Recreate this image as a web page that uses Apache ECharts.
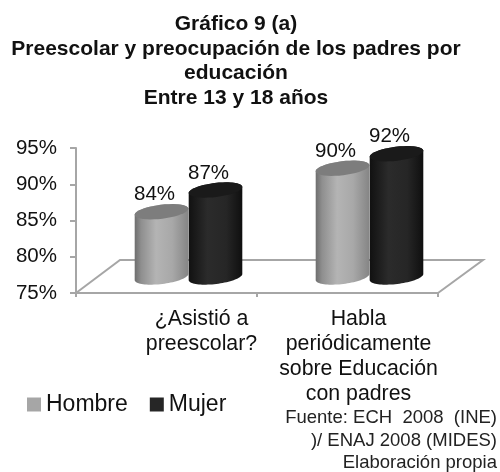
<!DOCTYPE html>
<html><head><meta charset="utf-8">
<style>html,body{margin:0;padding:0;background:#fff}#c{width:500px;height:472px}</style>
<script src="https://cdn.jsdelivr.net/npm/echarts@6/dist/echarts.min.js"></script>
</head><body><div id="c"></div>
<script>
const categories = ['¿Asistió a\npreescolar?', 'Habla\nperiódicamente\nsobre Educación\ncon padres'];
const categoryShift = [70, 22];
const hombre = [84, 90];
const mujer = [87, 92];
const yTicks = {min: 75, max: 95, interval: 5};
const titleText = 'Gráfico 9 (a)\nPreescolar y preocupación de los padres por\neducación\nEntre 13 y 18 años';
const sourceText = 'Fuente: ECH  2008  (INE)\n)/ ENAJ 2008 (MIDES)\nElaboración propia';

const FONT = '"Liberation Sans", Arial, sans-serif';
const GREY = '#a6a6a6';
const chart = echarts.init(document.getElementById('c'), null, {renderer: 'canvas'});

const RX = 27, RY = 7, TILT = -7 * Math.PI / 180, DEPTH = 16, SHIFT = 22;
function ellipsePts(cx, cy, from, to) {
  const pts = [];
  for (let i = 0; i <= 40; i++) {
    const t = from + (to - from) * i / 40;
    pts.push([
      cx + RX * Math.cos(t) * Math.cos(TILT) - RY * Math.sin(t) * Math.sin(TILT),
      cy + RX * Math.cos(t) * Math.sin(TILT) + RY * Math.sin(t) * Math.cos(TILT)
    ]);
  }
  return pts;
}
function grad(stops) {
  return new echarts.graphic.LinearGradient(0, 0, 1, 0, stops.map((c) => ({offset: c[0], color: c[1]})));
}
function cylinder(side, bodyStops, topColor) {
  return function (params, api) {
    const idx = api.value(0), v = api.value(1);
    const top = api.coord([idx, v]);
    const base = api.coord([idx, yTicks.min]);
    const cx = top[0] + SHIFT + side * RX;
    const ty = top[1] - DEPTH, by = base[1] - DEPTH;
    const body = ellipsePts(cx, ty, Math.PI, 2 * Math.PI).concat(ellipsePts(cx, by, 0, Math.PI));
    return {
      type: 'group',
      children: [
        {type: 'polygon', shape: {points: body}, style: {fill: grad(bodyStops)}},
        {type: 'polygon', shape: {points: ellipsePts(cx, ty, 0, 2 * Math.PI)}, style: {fill: topColor}},
        {type: 'text', style: {text: v + '%', x: cx - 7, y: ty - 17, align: 'center', verticalAlign: 'middle',
          font: '20.5px ' + FONT, fill: '#111'}}
      ]
    };
  };
}
function floor(params) {
  const g = params.coordSys;
  const l = g.x, r = g.x + g.width, b = g.y + g.height, back = b - 33;
  return {
    type: 'polyline',
    shape: {points: [[l, b], [l + 44, back], [r + 45, back], [r, b]]},
    style: {stroke: GREY, lineWidth: 2, fill: null}
  };
}

chart.setOption({
  animation: false,
  backgroundColor: '#fff',
  title: [
    {text: titleText, left: 236, top: 12, padding: 0, textAlign: 'center',
     textStyle: {fontFamily: FONT, fontWeight: 'bold', fontSize: 21, lineHeight: 24.5, color: '#111'}},
    {text: sourceText, left: 497, top: 407, padding: 0, textAlign: 'right',
     textStyle: {fontFamily: FONT, fontWeight: 'normal', fontSize: 18.5, lineHeight: 22.5, color: '#222', align: 'right'}}
  ],
  legend: {
    data: ['Hombre', 'Mujer'], left: 27, top: 393, padding: 0, icon: 'rect', itemWidth: 14, itemHeight: 14, itemGap: 22,
    textStyle: {fontFamily: FONT, fontSize: 23, color: '#111'}
  },
  grid: {left: 76, right: 62, top: 148, bottom: 179},
  xAxis: {
    type: 'category',
    data: categories.map((c, i) => ({value: c, textStyle: {padding: [0, 0, 0, categoryShift[i]]}})),
    axisLine: {lineStyle: {color: GREY, width: 2}},
    axisTick: {show: true, length: 4, lineStyle: {color: GREY, width: 2}},
    axisLabel: {fontFamily: FONT, fontSize: 21.3, lineHeight: 25, color: '#111', margin: 14, interval: 0}
  },
  yAxis: {
    type: 'value', min: yTicks.min, max: yTicks.max, interval: yTicks.interval,
    splitLine: {show: false},
    axisLine: {show: true, lineStyle: {color: GREY, width: 2}},
    axisTick: {show: true, length: 6, lineStyle: {color: GREY, width: 2}},
    axisLabel: {formatter: '{value}%', fontFamily: FONT, fontSize: 20.5, color: '#111', margin: 19}
  },
  series: [
    {name: 'floor', type: 'custom', renderItem: floor, data: [[0, 75]], silent: true, z: 1},
    {name: 'Hombre', type: 'custom', z: 2, itemStyle: {color: '#a6a6a6'},
     renderItem: cylinder(-1, [[0, '#6e6e6e'], [0.12, '#8f8f8f'], [0.4, '#b4b4b4'], [0.7, '#a8a8a8'], [1, '#858585']], '#7d7d7d'),
     encode: {x: 0, y: 1}, data: hombre.map((v, i) => [i, v])},
    {name: 'Mujer', type: 'custom', z: 3, itemStyle: {color: '#262626'},
     renderItem: cylinder(1, [[0, '#111111'], [0.35, '#2b2b2b'], [0.7, '#262626'], [1, '#0f0f0f']], '#1a1a1a'),
     encode: {x: 0, y: 1}, data: mujer.map((v, i) => [i, v])}
  ]
});
</script></body></html>
